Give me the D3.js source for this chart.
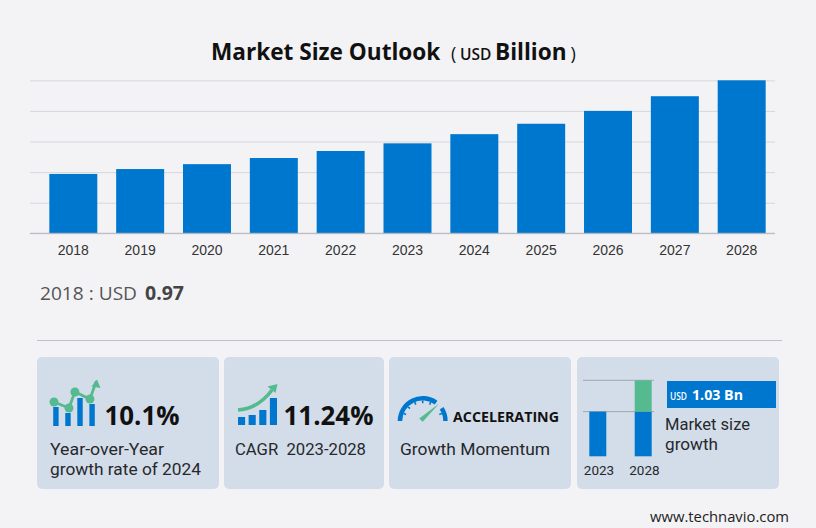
<!DOCTYPE html>
<html><head><meta charset="utf-8">
<script src="https://cdn.jsdelivr.net/npm/d3@7/dist/d3.min.js"></script>
<style>html,body{margin:0;padding:0;background:#f3f3f6}svg{display:block}</style>
</head><body><svg id="c" width="816" height="528"></svg>
<script>
const years = ["2018","2019","2020","2021","2022","2023","2024","2025","2026","2027","2028"];
const values = [0.97,1.05,1.13,1.23,1.345,1.47,1.62,1.79,2.0,2.24,2.5];
const gridTicks = [0,0.5,1,1.5,2,2.5];
const miniYears = ["2023","2028"];
const miniBase = [1.47,1.47];
const miniGrowth = [0,1.03];
const yoyBars = [19,13,28,22];
const yoyLine = [24,18,34,27,45];
const cagrBars = [8,10,15,27];
const cards = [[37,219],[224,384],[389,571],[577,779]];

const BLUE="#0077cf", GREEN="#55ba8f", INK="#111", TXT="#26282c", SANS="'Open Sans','Noto Sans',sans-serif", LABEL="Roboto,'Open Sans',sans-serif";
const svg=d3.select("#c");

// Main chart
const x=d3.scaleBand().domain(years).range([39.9,775.1]).paddingInner(0.282).paddingOuter(0.141);
const y=d3.scaleLinear().domain([0,2.5]).range([233.3,80.3]);
const gy=svg.append("g").attr("transform","translate(30,0)")
  .call(d3.axisLeft(y).tickValues(gridTicks).tickSize(-745).tickFormat(""));
gy.select(".domain").remove();
gy.selectAll("line").attr("stroke","#d6d7dc").attr("stroke-width",1);
svg.append("g").selectAll("rect").data(years).join("rect")
  .attr("x",d=>x(d)).attr("width",x.bandwidth())
  .attr("y",(d,i)=>y(values[i])).attr("height",(d,i)=>y(0)-y(values[i]))
  .attr("fill",BLUE);
const gx=svg.append("g").attr("transform","translate(0,233.3)")
  .call(d3.axisBottom(x).tickSize(0).tickPadding(12));
gx.select(".domain").attr("stroke","#b4b6bb").attr("d","M30,0H775");
gx.selectAll("text").attr("font-family","'Liberation Sans',Arial,sans-serif").attr("font-size",14).attr("fill","#333");

// Title
const title=svg.append("text").attr("x",211).attr("y",60).attr("font-family",SANS).attr("fill",INK);
title.append("tspan").text("Market Size Outlook").attr("font-size",22.6).attr("font-weight",700);
title.append("tspan").text("(").attr("x",451).attr("font-size",18).attr("font-weight",400);
title.append("tspan").text("USD").attr("x",460).attr("font-size",15.5).attr("font-weight",600);
title.append("tspan").text("Billion").attr("x",495).attr("font-size",22.6).attr("font-weight",700);
title.append("tspan").text(")").attr("x",570.5).attr("font-size",18).attr("font-weight",400);

function txt(xp,yp,s,size,weight,fill,w,fam){
  const t=svg.append("text").attr("x",xp).attr("y",yp).attr("font-family",fam||SANS).attr("font-size",size)
    .attr("font-weight",weight||400).attr("fill",fill||TXT).text(s);
  if(w) t.attr("textLength",w).attr("lengthAdjust","spacingAndGlyphs");
  return t;
}
txt(40,300,"2018 : USD",19,400,"#555",97);
txt(145,299.5,d3.format(".2f")(values[0]),19,700,"#444",39);

svg.append("line").attr("x1",37).attr("x2",782).attr("y1",340.5).attr("y2",340.5).attr("stroke","#c0c2cb");

// Cards
svg.append("g").selectAll("rect").data(cards).join("rect")
  .attr("x",d=>d[0]).attr("width",d=>d[1]-d[0]).attr("y",357).attr("height",132).attr("rx",5).attr("fill","#d3dde9");

txt(104.5,425,"10.1%",26,700,INK,75);
txt(50,455,"Year-over-Year",16.4,400,TXT,114,LABEL);
txt(50,475,"growth rate of 2024",16.4,400,TXT,151,LABEL);
txt(283.5,425,"11.24%",26,700,INK,90);
txt(235,455,"CAGR  2023-2028",16.4,400,TXT,131,LABEL).attr("xml:space","preserve");
txt(453,421.7,"ACCELERATING",14.5,700,INK,106);
txt(400,455,"Growth Momentum",16.4,400,TXT,150,LABEL);

// Icon 1: YoY
const i1x=d3.scaleBand().domain(d3.range(4)).range([52,96]).paddingInner(0.55).paddingOuter(0.1);
const iy=d3.scaleLinear().domain([0,45]).range([426,381]);
svg.append("g").selectAll("rect").data(yoyBars).join("rect")
  .attr("x",(d,i)=>i1x(i)).attr("width",i1x.bandwidth()).attr("y",d=>iy(d)).attr("height",d=>iy(0)-iy(d)).attr("fill",BLUE);
const i1lx=d3.scaleLinear().domain([0,4]).range([54,98]);
const lxp=[0,1.36,1.9,3.27,3.85];
svg.append("path").datum(yoyLine).attr("fill","none").attr("stroke",GREEN).attr("stroke-width",2.8)
  .attr("d",d3.line().x((d,i)=>i1lx(lxp[i])).y(d=>iy(d)));
svg.append("g").selectAll("circle").data(yoyLine.slice(0,4)).join("circle")
  .attr("cx",(d,i)=>i1lx(lxp[i])).attr("cy",d=>iy(d)).attr("r",4.5).attr("fill",GREEN);
svg.append("path").attr("fill",GREEN).attr("d","M97,379.5L100.5,388L91.5,386.5Z");

// Icon 2: CAGR
const i2x=d3.scaleBand().domain(d3.range(4)).range([238,277]).paddingInner(0.33).paddingOuter(0);
const i2y=d3.scaleLinear().domain([0,27]).range([425,398]);
svg.append("g").selectAll("rect").data(cagrBars).join("rect")
  .attr("x",(d,i)=>i2x(i)).attr("width",i2x.bandwidth()).attr("y",d=>i2y(d)).attr("height",d=>i2y(0)-i2y(d)).attr("fill",BLUE);
svg.append("path").attr("fill","none").attr("stroke",GREEN).attr("stroke-width",3.6)
  .attr("d","M238,410C252,409 263,402 272,390");
svg.append("path").attr("fill",GREEN).attr("d","M277.5,384L275.5,393L267.5,386.5Z");

// Icon 3: gauge
const gc=svg.append("g").attr("transform","translate(422.7,421)");
const arc=d3.arc().innerRadius(20.5).outerRadius(25);
gc.append("path").attr("fill",BLUE).attr("d",arc({startAngle:-1.57,endAngle:0.63}));
gc.append("path").attr("fill",BLUE).attr("d",arc({startAngle:0.98,endAngle:1.57}));
gc.append("g").selectAll("line").data([-1.2,-0.8,-0.4,0,0.4,1.2]).join("line")
  .attr("x1",a=>20.5*Math.sin(a)).attr("y1",a=>-20.5*Math.cos(a))
  .attr("x2",a=>17.8*Math.sin(a)).attr("y2",a=>-17.8*Math.cos(a))
  .attr("stroke",BLUE).attr("stroke-width",1.6);
gc.append("path").attr("fill",GREEN).attr("d","M16.5,-17.5L0,0.8L-3.5,-2.5Z");

// Card 4: mini chart
const mx=d3.scaleBand().domain(miniYears).range([575.7,665.3]).paddingInner(0.626).paddingOuter(0.3);
const my=d3.scaleLinear().domain([0,2.5]).range([456.3,380.3]);
svg.append("g").selectAll("line").data([my(2.5),my(miniBase[0])]).join("line")
  .attr("x1",583).attr("x2",654).attr("y1",d=>d).attr("y2",d=>d).attr("stroke","#9fa8b3");
svg.append("g").selectAll("rect").data(miniYears).join("rect")
  .attr("x",d=>mx(d)).attr("width",mx.bandwidth()).attr("y",(d,i)=>my(miniBase[i])).attr("height",(d,i)=>my(0)-my(miniBase[i])).attr("fill",BLUE);
svg.append("g").selectAll("rect").data(miniYears).join("rect")
  .attr("x",d=>mx(d)).attr("width",mx.bandwidth()).attr("y",(d,i)=>my(miniBase[i]+miniGrowth[i])).attr("height",(d,i)=>my(miniBase[i])-my(miniBase[i]+miniGrowth[i])).attr("fill",GREEN);
svg.append("g").selectAll("text").data(miniYears).join("text")
  .attr("x",d=>mx(d)+mx.bandwidth()/2+1.2).attr("y",475).attr("text-anchor","middle")
  .attr("font-family",LABEL).attr("font-size",13.5).attr("fill",TXT).text(d=>d);
svg.append("rect").attr("x",667).attr("y",381).attr("width",109).attr("height",27).attr("fill",BLUE);
txt(670,400,"USD",10.5,600,"#fff",17);
txt(692,400,"1.03 Bn",14.5,700,"#fff",51);
txt(665,430,"Market size",16.4,400,TXT,85,LABEL);
txt(665,450,"growth",16.4,400,TXT,53,LABEL);
txt(650,522,"www.technavio.com",14.8,400,"#222",139);
</script></body></html>
